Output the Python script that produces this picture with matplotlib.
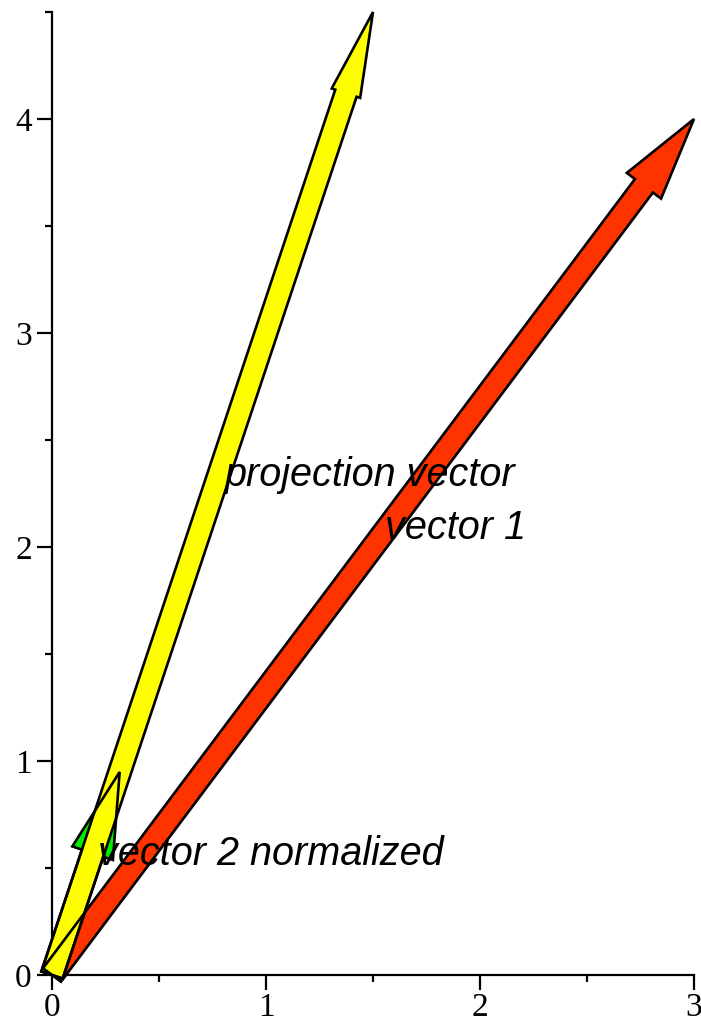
import matplotlib
matplotlib.use("Agg")
import matplotlib.pyplot as plt
from matplotlib.patches import FancyArrow

# data
names = ["vector 1", "projection vector", "vector 2 normalized"]
vec_x = [3.0, 1.5, 0.3162]
vec_y = [4.0, 4.5, 0.9487]
colors = ["#FF3300", "#FFFF00", "#00EE00"]
shaft_w = [0.105, 0.105, 0.105]
head_w = [0.20, 0.14, 0.20]
head_l = [0.39, 0.40, 0.40]
fill_order = [1, 3, 0]  # zorder of fills: green lowest, red, then yellow

xticks = [0, 1, 2, 3]
yticks = [0, 1, 2, 3, 4]
xminor = [0.5, 1.5, 2.5]
yminor = [0.5, 1.5, 2.5, 3.5, 4.5]

W, H = 701, 1030
fig = plt.figure(figsize=(W / 100, H / 100), dpi=100)
ax = fig.add_axes([52 / W, (H - 975) / H, (694 - 52) / W, (975 - 12) / H])
ax.set_xlim(0, 3)
ax.set_ylim(0, 4.5)

for i in range(3):
    kw = dict(width=shaft_w[i], head_width=head_w[i], head_length=head_l[i],
              length_includes_head=True, clip_on=False)
    a = FancyArrow(0, 0, vec_x[i], vec_y[i], facecolor=colors[i], edgecolor="none",
                   linewidth=0, zorder=2 + fill_order[i] * 0.1, **kw)
    ax.add_patch(a)
    b = FancyArrow(0, 0, vec_x[i], vec_y[i], fill=False, edgecolor="black",
                   linewidth=1.9, joinstyle="miter", zorder=5, **kw)
    ax.add_patch(b)

lab_font = dict(family="Liberation Sans", style="italic", size=28.5)
for i in range(3):
    ax.annotate(names[i], xy=(vec_x[i] / 2, vec_y[i] / 2), xytext=(12, 8),
                textcoords="offset pixels", ha="left", va="baseline",
                zorder=6, annotation_clip=False, **lab_font)

for s in ["top", "right"]:
    ax.spines[s].set_visible(False)
for s in ["left", "bottom"]:
    ax.spines[s].set_linewidth(1.6)
    ax.spines[s].set_zorder(1)

ax.set_xticks(xticks)
ax.set_yticks(yticks)
ax.set_xticks(xminor, minor=True)
ax.set_yticks(yminor, minor=True)
ax.set_xticklabels([str(t) for t in xticks], family="Liberation Serif", size=24)
ax.set_yticklabels([str(t) for t in yticks], family="Liberation Serif", size=24)
ax.tick_params(which="major", length=10.5, width=1.6, direction="out")
ax.tick_params(which="minor", length=5, width=1.6, direction="out")
ax.tick_params(axis="x", which="major", pad=2)
ax.tick_params(axis="y", which="major", pad=4)

fig.savefig("out.png", dpi=100)
